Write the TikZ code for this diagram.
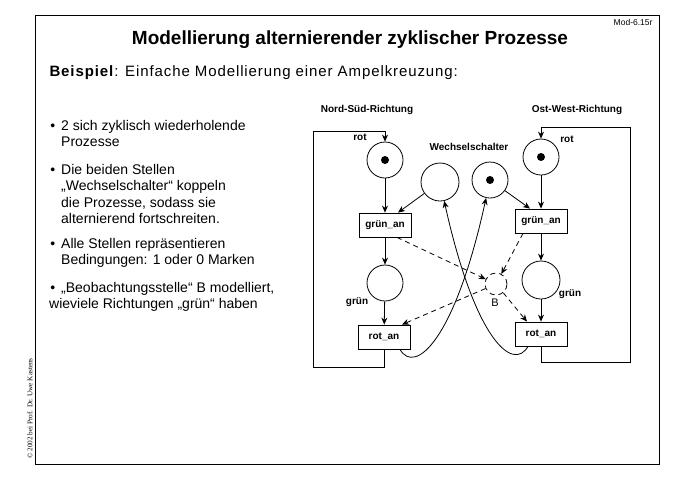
\documentclass[tikz,border=0pt]{standalone}
\usepackage{fontspec}
\setmainfont{Liberation Sans}
\newfontfamily\copyfont{Liberation Serif}
\newfontfamily\widefont[LetterSpace=6]{Liberation Sans}
\usetikzlibrary{positioning,arrows.meta}

\tikzset{
  place/.style={draw, circle, minimum size=36pt, inner sep=0pt, line width=0.8pt},
  trans/.style={draw, rectangle, minimum width=52pt, minimum height=24pt, inner sep=0pt, line width=0.8pt, font=\bfseries\fontsize{10}{12}\selectfont},
  token/.style={fill, circle, minimum size=8pt, inner sep=0pt},
  lbl/.style={font=\bfseries\fontsize{10}{12}\selectfont},
  arc/.style={-{Stealth[length=7pt,width=6pt]}, line width=0.8pt},
  darc/.style={arc, dash pattern=on 5pt off 4pt},
  item/.style={anchor=north west, align=left, inner sep=0pt, font=\fontsize{14}{16.5}\selectfont}
}

\begin{document}
\begin{tikzpicture}[x=1pt, y=-1pt]
  \useasboundingbox (0,0) rectangle (678,480);
  % Frame and header
  \draw[line width=1pt] (35,15) rectangle (659,464);
  \node[anchor=east, font=\fontsize{8.5}{9}\selectfont] (modnr) at (656,22) {Mod-6.15r};
  \node[font=\bfseries\fontsize{19}{22}\selectfont] (title) at (350,40) {Modellierung alternierender zyklischer Prozesse};
  \node[anchor=west, font=\widefont\fontsize{15}{16}\selectfont] (beisp) at (46,73) {\textbf{Beispiel}: Einfache Modellierung einer Ampelkreuzung:};
  \node[rotate=90, anchor=west, font=\copyfont\fontsize{7.2}{8}\selectfont] (copy) at (30,462) {© 2002 bei Prof. Dr. Uwe Kastens};

  % Bullets
  \node[item] (it1) at (61,120) {\llap{\textbullet\hspace{6pt}}2 sich zyklisch wiederholende\\Prozesse};
  \node[item] (it2) at (61,164) {\llap{\textbullet\hspace{6pt}}Die beiden Stellen\\„Wechselschalter“ koppeln\\die Prozesse, sodass sie\\alternierend fortschreiten.};
  \node[item] (it3) at (61,238) {\llap{\textbullet\hspace{6pt}}Alle Stellen repräsentieren\\Bedingungen: 1 oder 0 Marken};
  \node[item] (it4) at (61,282) {\llap{\textbullet\hspace{6pt}}„Beobachtungsstelle“ B modelliert,\\\hspace*{-12pt}wieviele Richtungen „grün“ haben};

  % Net: places and transitions
  \node[lbl] (ns) at (367,110) {Nord-Süd-Richtung};
  \node[lbl] (ow) at (577,110) {Ost-West-Richtung};
  \node[lbl] (wslbl) at (469,147) {Wechselschalter};

  \node[place] (lrot) at (385,160) {};
  \node[token] at (lrot) {};
  \node[place] (rrot) at (541,157) {};
  \node[token] at (rrot) {};
  \node[place, minimum size=38pt] (lws) at (440,182) {};
  \node[place] (rws) at (490,180) {};
  \node[token] at (rws) {};

  \node[trans] (lgran) at (385,225) {grün\_an};
  \node[trans] (rgran) at (541,221) {grün\_an};
  \node[place] (lgr) at (385,283) {};
  \node[place, minimum size=38pt] (rgr) at (541,280) {};
  \node[trans] (lrotan) at (384,337) {rot\_an};
  \node[trans] (rrotan) at (541,334) {rot\_an};
  \node[place, dash pattern=on 5pt off 4pt, minimum size=22pt] (B) at (496,284) {};
  \node[font=\fontsize{11}{12}\selectfont] (blbl) at (495,303) {B};

  \node[lbl] (lrotlbl) at (360,137) {rot};
  \node[lbl] (rrotlbl) at (567,139) {rot};
  \node[lbl] (lgrlbl) at (357,302) {grün};
  \node[lbl] (rgrlbl) at (570,294) {grün};

  % Arcs
  \draw[arc] (lrot) -- (lgran);
  \draw[arc] (lgran) -- (lgr);
  \draw[arc] (lgr) -- (lrotan);
  \draw[arc] (rrot) -- (rgran);
  \draw[arc] (rgran) -- (rgr);
  \draw[arc] (rgr) -- (rrotan);
  \draw[arc] (lws) -- ([xshift=13pt]lgran.north);
  \draw[arc] (rws) -- ([xshift=-11pt]rgran.north);

  \draw[arc] (lrotan.south) -- ++(0,18) -| (313,131) -| (lrot.north);
  \draw[arc] (rrotan.south) -- ++(0,16) -| (630,127) -| (rrot.north);

  \draw[arc] ([xshift=16pt]lrotan.south) .. controls +(15,26) and (455,340) .. (rws);
  \draw[arc] ([xshift=-13pt]rrotan.south) .. controls +(-15,26) and (475,340) .. (lws);

  \draw[darc] ([xshift=12pt]lgran.south) -- (B);
  \draw[darc] ([xshift=-18pt]rgran.south) -- (B);
  \draw[darc] (B) -- ([xshift=18pt]lrotan.north);
  \draw[darc] (B) -- ([xshift=-14pt]rrotan.north);
\end{tikzpicture}
\end{document}
